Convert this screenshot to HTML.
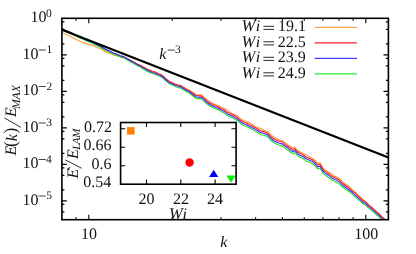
<!DOCTYPE html><html><head><meta charset="utf-8"><style>html,body{margin:0;padding:0;background:#fff;}svg{display:block;font-family:"Liberation Serif",serif;text-rendering:geometricPrecision;will-change:transform;}</style></head><body>
<svg width="416" height="254" viewBox="0 0 416 254">
<rect width="416" height="254" fill="#fff"/>
<clipPath id="c"><rect x="61.9" y="18.3" width="326.5" height="201.4"/></clipPath>
<g fill="none" stroke-width="1.1" stroke-linejoin="round" clip-path="url(#c)">
<path d="M61.9,32.6 L64.3,33.8 L67.1,34.9 L69.5,36.1 L72.0,37.2 L74.2,38.5 L76.8,39.8 L79.5,41.1 L82.4,42.4 L85.2,43.2 L87.8,44.1 L91.1,44.9 L93.8,45.8 L96.7,47.2 L99.8,48.6 L102.6,50.1 L105.1,51.5 L107.2,52.5 L109.6,53.4 L111.9,54.3 L114.5,55.3 L117.2,56.0 L119.7,56.5 L121.9,57.2 L124.9,57.9 L128.1,59.8 L130.8,61.7 L134.0,63.6 L136.9,64.8 L140.0,66.4 L142.7,67.6 L145.0,68.7 L147.7,69.9 L150.2,70.6 L152.9,71.5 L155.7,72.1 L157.8,73.4 L160.5,75.2 L163.4,76.4 L166.0,78.9 L169.1,81.3 L171.6,82.8 L174.8,84.0 L177.8,84.7 L180.4,85.5 L183.6,87.0 L186.1,88.9 L189.1,90.3 L191.8,91.8 L195.7,94.5 L198.6,94.7 L201.3,94.7 L204.4,97.7 L207.0,99.7 L209.8,101.6 L212.7,103.2 L215.1,104.4 L218.3,105.4 L221.3,107.4 L224.0,108.2 L227.1,109.9 L229.7,111.9 L232.4,113.7 L235.3,114.8 L237.2,115.7 L241.0,119.1 L243.5,120.4 L246.7,121.5 L249.2,122.6 L252.3,124.4 L254.8,126.3 L258.0,127.7 L260.6,128.6 L263.7,129.9 L265.8,131.1 L268.0,131.7 L271.3,135.3 L273.8,136.9 L277.0,138.7 L279.9,140.0 L282.7,140.6 L285.8,143.2 L288.3,144.9 L290.5,146.3 L293.0,148.3 L294.9,147.0 L297.8,150.5 L300.5,152.2 L303.4,153.4 L306.6,154.7 L309.1,156.6 L311.7,158.0 L314.8,160.0 L317.6,163.4 L320.0,162.8 L323.6,168.7 L326.2,170.6 L329.2,172.5 L332.1,174.1 L334.9,176.2 L336.9,177.3 L339.6,178.7 L341.8,181.1 L344.3,183.1 L347.0,185.0 L349.0,186.7 L352.8,190.1 L355.2,192.5 L357.5,194.6 L360.5,196.8 L363.2,200.0 L366.4,202.8 L368.9,204.9 L371.7,207.2 L374.3,209.5 L376.1,211.1 L378.5,213.2 L380.4,215.6 L382.6,217.1 L385.2,219.8 L388.0,222.4" stroke="#ff9a3c"/>
<path d="M61.9,28.8 L64.3,29.9 L67.1,31.0 L69.5,32.1 L72.0,33.1 L74.2,34.4 L76.8,35.7 L79.5,36.9 L82.4,38.2 L85.2,39.4 L87.8,40.6 L91.1,41.8 L93.8,43.0 L96.7,44.5 L99.8,46.0 L102.5,47.5 L105.0,49.0 L107.1,50.1 L109.6,51.2 L111.9,52.3 L114.5,53.4 L117.4,54.5 L120.0,55.7 L122.3,56.3 L124.6,57.1 L126.9,58.5 L130.0,60.0 L132.9,61.4 L135.5,62.9 L137.8,64.2 L140.3,65.3 L142.7,66.7 L145.1,67.9 L146.9,69.0 L149.3,70.1 L152.2,71.5 L155.2,72.1 L157.8,73.4 L161.0,74.5 L163.4,76.4 L166.2,79.2 L169.1,81.3 L171.7,82.6 L174.8,84.0 L177.2,85.0 L180.4,85.5 L183.5,87.4 L186.1,89.0 L189.3,90.6 L191.8,92.4 L195.7,95.3 L198.7,95.8 L201.3,95.9 L204.2,98.3 L207.0,100.9 L210.1,103.2 L212.7,104.5 L215.5,105.7 L218.3,106.7 L220.8,108.5 L224.0,109.6 L227.0,112.1 L229.7,113.3 L232.8,114.5 L235.3,116.3 L237.2,117.2 L241.0,120.6 L243.8,121.9 L246.7,123.1 L249.1,124.4 L252.3,126.0 L254.9,127.4 L258.0,129.3 L260.5,130.7 L263.7,131.6 L265.6,132.2 L268.0,133.4 L271.3,137.0 L274.1,139.0 L277.0,140.4 L279.5,141.3 L282.7,142.3 L285.5,144.7 L288.3,146.5 L290.9,148.5 L293.0,149.9 L294.9,148.6 L297.8,152.1 L300.4,153.5 L303.4,155.0 L306.1,157.0 L309.1,158.2 L312.3,159.7 L314.8,161.6 L317.6,165.0 L320.0,164.4 L323.6,170.2 L326.1,171.9 L329.2,174.0 L331.8,176.0 L334.9,177.7 L337.3,178.8 L339.6,180.2 L341.6,182.4 L344.3,184.4 L346.5,186.2 L349.0,187.8 L352.8,191.1 L355.5,193.3 L357.5,195.4 L360.4,198.2 L363.2,200.5 L366.2,202.5 L368.9,205.2 L371.7,207.5 L374.3,209.9 L376.5,211.8 L378.5,213.4 L380.6,215.5 L382.6,217.7 L385.2,219.8 L388.0,222.4" stroke="#ff1a1a"/>
<path d="M61.9,29.7 L64.3,30.8 L67.1,31.9 L69.5,33.0 L72.0,34.1 L74.2,35.3 L76.8,36.6 L79.5,37.9 L82.4,39.1 L85.2,40.3 L87.8,41.6 L91.1,42.8 L93.8,44.0 L96.7,45.5 L99.8,47.0 L102.5,48.5 L105.0,50.0 L107.1,51.1 L109.6,52.2 L111.9,53.3 L114.5,54.4 L117.4,55.5 L120.0,56.7 L122.3,57.4 L124.6,58.3 L126.9,59.8 L130.0,61.4 L132.9,63.0 L135.5,64.6 L137.8,65.9 L140.3,67.1 L142.7,68.7 L145.1,70.0 L146.9,71.2 L149.3,72.2 L152.2,73.6 L155.2,74.3 L157.8,75.6 L161.0,76.8 L163.4,78.6 L166.2,81.2 L169.1,83.6 L171.7,84.8 L174.8,86.3 L177.2,87.2 L180.4,87.9 L183.5,89.7 L186.1,91.4 L189.3,93.0 L191.8,95.0 L195.7,98.2 L198.7,98.6 L201.3,98.9 L204.2,101.3 L207.0,104.0 L210.1,106.2 L212.7,107.6 L215.5,108.8 L218.3,109.8 L220.8,111.4 L224.0,112.8 L227.0,115.3 L229.7,116.6 L232.8,117.9 L235.3,119.5 L237.2,120.5 L241.0,123.9 L243.8,125.4 L246.7,126.5 L249.1,127.8 L252.3,129.5 L254.9,131.0 L258.0,132.9 L260.5,134.5 L263.7,135.2 L265.6,135.8 L268.0,137.1 L271.3,140.8 L274.1,142.8 L277.0,144.2 L279.5,145.2 L282.7,146.1 L285.5,148.7 L288.3,150.3 L290.9,152.5 L293.0,153.7 L294.9,152.4 L297.8,155.9 L300.4,157.3 L303.4,158.8 L306.1,160.9 L309.1,162.1 L312.3,163.5 L314.8,165.5 L317.6,168.9 L320.0,168.3 L323.6,174.1 L326.1,175.7 L329.2,177.9 L331.8,179.7 L334.9,181.6 L337.3,182.7 L339.6,184.1 L341.6,186.2 L344.3,188.2 L346.5,189.9 L349.0,191.5 L352.8,194.6 L355.5,197.0 L357.5,198.8 L360.4,201.3 L363.2,203.8 L366.2,205.6 L368.9,208.4 L371.7,210.6 L374.3,212.9 L376.5,214.7 L378.5,216.3 L380.6,218.2 L382.6,220.6 L385.2,222.6 L388.0,225.1" stroke="#20e020"/>
<path d="M61.9,28.8 L64.3,29.9 L67.1,31.0 L69.5,32.1 L72.0,33.1 L74.2,34.4 L76.8,35.7 L79.5,36.9 L82.4,38.2 L85.2,39.4 L87.8,40.6 L91.1,41.8 L93.8,43.0 L96.7,44.5 L99.8,46.0 L102.5,47.5 L105.0,49.0 L107.1,50.1 L109.6,51.2 L111.9,52.3 L114.5,53.4 L117.4,54.6 L120.0,55.7 L122.3,56.4 L124.6,57.3 L126.9,58.8 L130.0,60.4 L132.9,61.9 L135.5,63.5 L137.8,64.9 L140.3,66.1 L142.7,67.6 L145.1,68.8 L146.9,70.0 L149.3,71.1 L152.2,72.5 L155.2,73.2 L157.8,74.5 L161.0,75.8 L163.4,77.5 L166.2,80.2 L169.1,82.4 L171.7,83.8 L174.8,85.1 L177.2,86.0 L180.4,86.7 L183.5,88.4 L186.1,90.2 L189.3,91.7 L191.8,93.7 L195.7,96.7 L198.7,97.1 L201.3,97.4 L204.2,99.9 L207.0,102.5 L210.1,104.8 L212.7,106.0 L215.5,107.3 L218.3,108.2 L220.8,109.8 L224.0,111.2 L227.0,113.7 L229.7,114.9 L232.8,116.3 L235.3,117.9 L237.2,118.8 L241.0,122.2 L243.8,123.7 L246.7,124.7 L249.1,126.3 L252.3,127.7 L254.9,129.1 L258.0,131.0 L260.5,132.5 L263.7,133.3 L265.6,133.9 L268.0,135.1 L271.3,138.8 L274.1,141.0 L277.0,142.2 L279.5,143.3 L282.7,144.1 L285.5,146.5 L288.3,148.3 L290.9,150.5 L293.0,151.7 L294.9,150.4 L297.8,153.9 L300.4,155.4 L303.4,156.8 L306.1,158.8 L309.1,160.1 L312.3,161.4 L314.8,163.5 L317.6,166.9 L320.0,166.3 L323.6,172.1 L326.1,173.7 L329.2,175.9 L331.8,177.9 L334.9,179.6 L337.3,180.6 L339.6,182.1 L341.6,184.2 L344.3,186.3 L346.5,188.0 L349.0,189.7 L352.8,192.8 L355.5,195.3 L357.5,197.1 L360.4,199.9 L363.2,202.2 L366.2,204.1 L368.9,206.8 L371.7,209.1 L374.3,211.3 L376.5,213.4 L378.5,214.9 L380.6,217.0 L382.6,219.3 L385.2,221.2 L388.0,223.8" stroke="#3030ff"/>
</g>
<line x1="61.9" y1="29.7" x2="388.4" y2="157.5" stroke="#000" stroke-width="2.3"/>
<rect x="61.9" y="18.3" width="326.5" height="201.4" fill="none" stroke="#000" stroke-width="1.6"/>
<path d="M76.1,219.7v-2.5M76.1,18.3v2.5M172.2,219.7v-2.5M172.2,18.3v2.5M221.0,219.7v-2.5M221.0,18.3v2.5M255.6,219.7v-2.5M255.6,18.3v2.5M282.4,219.7v-2.5M282.4,18.3v2.5M304.3,219.7v-2.5M304.3,18.3v2.5M322.9,219.7v-2.5M322.9,18.3v2.5M339.0,219.7v-2.5M339.0,18.3v2.5M353.1,219.7v-2.5M353.1,18.3v2.5M88.8,219.7v-4.9M88.8,18.3v4.9M365.8,219.7v-4.9M365.8,18.3v4.9M61.9,21.9h2.5M388.4,21.9h-2.5M61.9,29.4h2.5M388.4,29.4h-2.5M61.9,43.9h2.5M388.4,43.9h-2.5M61.9,54.9h4.9M388.4,54.9h-4.9M61.9,58.4h2.5M388.4,58.4h-2.5M61.9,65.9h2.5M388.4,65.9h-2.5M61.9,80.4h2.5M388.4,80.4h-2.5M61.9,91.4h4.9M388.4,91.4h-4.9M61.9,94.9h2.5M388.4,94.9h-2.5M61.9,102.4h2.5M388.4,102.4h-2.5M61.9,116.9h2.5M388.4,116.9h-2.5M61.9,127.9h4.9M388.4,127.9h-4.9M61.9,131.4h2.5M388.4,131.4h-2.5M61.9,138.9h2.5M388.4,138.9h-2.5M61.9,153.4h2.5M388.4,153.4h-2.5M61.9,164.4h4.9M388.4,164.4h-4.9M61.9,167.9h2.5M388.4,167.9h-2.5M61.9,175.4h2.5M388.4,175.4h-2.5M61.9,189.9h2.5M388.4,189.9h-2.5M61.9,200.9h4.9M388.4,200.9h-4.9M61.9,204.4h2.5M388.4,204.4h-2.5M61.9,211.9h2.5M388.4,211.9h-2.5" stroke="#000" stroke-width="1.1" fill="none"/>
<g fill="#111" stroke="none">
<text x="30.59" y="22.30" font-size="16">10</text>
<text x="45.96" y="16.70" font-size="11.5">0</text>
<text x="22.39" y="58.80" font-size="16">10</text>
<path d="M38.6,50.0h7.2" stroke="#111" stroke-width="0.8" fill="none"/>
<text x="46.54" y="53.00" font-size="11.5">1</text>
<text x="22.39" y="95.30" font-size="16">10</text>
<path d="M38.6,86.5h7.2" stroke="#111" stroke-width="0.8" fill="none"/>
<text x="46.48" y="89.50" font-size="11.5">2</text>
<text x="22.39" y="131.80" font-size="16">10</text>
<path d="M38.6,123.0h7.2" stroke="#111" stroke-width="0.8" fill="none"/>
<text x="46.30" y="126.00" font-size="11.5">3</text>
<text x="22.39" y="168.30" font-size="16">10</text>
<path d="M38.6,159.5h7.2" stroke="#111" stroke-width="0.8" fill="none"/>
<text x="46.03" y="162.50" font-size="11.5">4</text>
<text x="22.39" y="204.80" font-size="16">10</text>
<path d="M38.6,196.0h7.2" stroke="#111" stroke-width="0.8" fill="none"/>
<text x="46.30" y="199.00" font-size="11.5">5</text>
<text x="81.00" y="238.80" font-size="16">10</text>
<text x="354.20" y="238.80" font-size="16">100</text>
<text x="220.34" y="246.90" font-size="16" font-style="italic">k</text>
<text transform="translate(16.40,155.41) rotate(-90)" font-size="16" font-style="italic">E</text>
<text transform="translate(16.40,146.97) rotate(-90)" font-size="17.6">(</text>
<text transform="translate(16.50,141.36) rotate(-90)" font-size="16" font-style="italic">k</text>
<text transform="translate(16.40,133.47) rotate(-90)" font-size="17.6">)</text>
<path d="M20.8,127.3L4.4,117.9" stroke="#111" stroke-width="0.85" fill="none"/>
<text transform="translate(16.40,117.01) rotate(-90)" font-size="16" font-style="italic">E</text>
<text transform="translate(19.50,109.06) rotate(-90)" font-size="11.6" font-style="italic">MAX</text>
<text x="159.14" y="58.90" font-size="16" font-style="italic">k</text>
<path d="M167.7,50.1h7" stroke="#111" stroke-width="0.8" fill="none"/>
<text x="175.05" y="53.00" font-size="11.5">3</text>
<text x="241.41" y="31.40" font-size="16.6" font-style="italic">W</text>
<text x="255.74" y="31.40" font-size="16" font-style="italic">i</text>
<path d="M263.4,26.3h10.6M263.4,29.4h10.6" stroke="#111" stroke-width="0.9" fill="none"/>
<text x="278.06" y="31.40" font-size="16">19.1</text>
<line x1="314.6" x2="357.0" y1="27.4" y2="27.4" stroke="#ffa54d" stroke-width="1.25"/>
<text x="241.41" y="46.90" font-size="16.6" font-style="italic">W</text>
<text x="255.74" y="46.90" font-size="16" font-style="italic">i</text>
<path d="M263.4,41.8h10.6M263.4,44.9h10.6" stroke="#111" stroke-width="0.9" fill="none"/>
<text x="277.73" y="46.90" font-size="16">22.5</text>
<line x1="314.6" x2="357.0" y1="42.9" y2="42.9" stroke="#ff2020" stroke-width="1.25"/>
<text x="241.41" y="62.40" font-size="16.6" font-style="italic">W</text>
<text x="255.74" y="62.40" font-size="16" font-style="italic">i</text>
<path d="M263.4,57.3h10.6M263.4,60.4h10.6" stroke="#111" stroke-width="0.9" fill="none"/>
<text x="277.76" y="62.40" font-size="16">23.9</text>
<line x1="314.6" x2="357.0" y1="58.4" y2="58.4" stroke="#4040ff" stroke-width="1.25"/>
<text x="241.41" y="77.90" font-size="16.6" font-style="italic">W</text>
<text x="255.74" y="77.90" font-size="16" font-style="italic">i</text>
<path d="M263.4,72.8h10.6M263.4,75.9h10.6" stroke="#111" stroke-width="0.9" fill="none"/>
<text x="277.76" y="77.90" font-size="16">24.9</text>
<line x1="314.6" x2="357.0" y1="73.9" y2="73.9" stroke="#30f030" stroke-width="1.25"/>
</g>
<rect x="120.6" y="122.5" width="115.5" height="61.7" fill="#fff" stroke="#000" stroke-width="1.6"/>
<path d="M146.5,184.2v-4.6M146.5,122.5v4.6M180.8,184.2v-4.6M180.8,122.5v4.6M215.1,184.2v-4.6M215.1,122.5v4.6M120.6,128.7h4.6M236.1,128.7h-4.6M120.6,147.2h4.6M236.1,147.2h-4.6M120.6,165.7h4.6M236.1,165.7h-4.6" stroke="#000" stroke-width="1.1" fill="none"/>
<g fill="#111" stroke="none">
<text x="83.88" y="131.90" font-size="16">0.72</text>
<text x="83.48" y="150.40" font-size="16">0.66</text>
<text x="91.48" y="168.90" font-size="16">0.6</text>
<text x="83.25" y="187.40" font-size="16">0.54</text>
<text x="138.55" y="203.60" font-size="16">20</text>
<text x="172.99" y="203.60" font-size="16">22</text>
<text x="206.97" y="203.60" font-size="16">24</text>
<text x="168.92" y="219.20" font-size="16.4" font-style="italic">W</text>
<text x="182.44" y="219.20" font-size="16" font-style="italic">i</text>
<text transform="translate(77.70,178.41) rotate(-90)" font-size="16" font-style="italic">E</text>
<path d="M67.0,169.3L70.2,167.4" stroke="#111" stroke-width="1.0" fill="none"/>
<path d="M81.8,168.3L65.4,159.9" stroke="#111" stroke-width="0.85" fill="none"/>
<text transform="translate(77.70,159.01) rotate(-90)" font-size="16" font-style="italic">E</text>
<text transform="translate(80.20,149.87) rotate(-90)" font-size="11" font-style="italic" letter-spacing="-0.4">LAM</text>
</g>
<rect x="127.1" y="127.1" width="7.5" height="7.5" fill="#ff8000"/>
<circle cx="189.6" cy="162.5" r="4.2" fill="#ff0000"/>
<path d="M213.7,169.8 L218.3,177.0 L209.1,177.0Z" fill="#0000ff"/>
<path d="M231.0,182.7 L235.6,175.4 L226.4,175.4Z" fill="#00f400"/>
</svg></body></html>
